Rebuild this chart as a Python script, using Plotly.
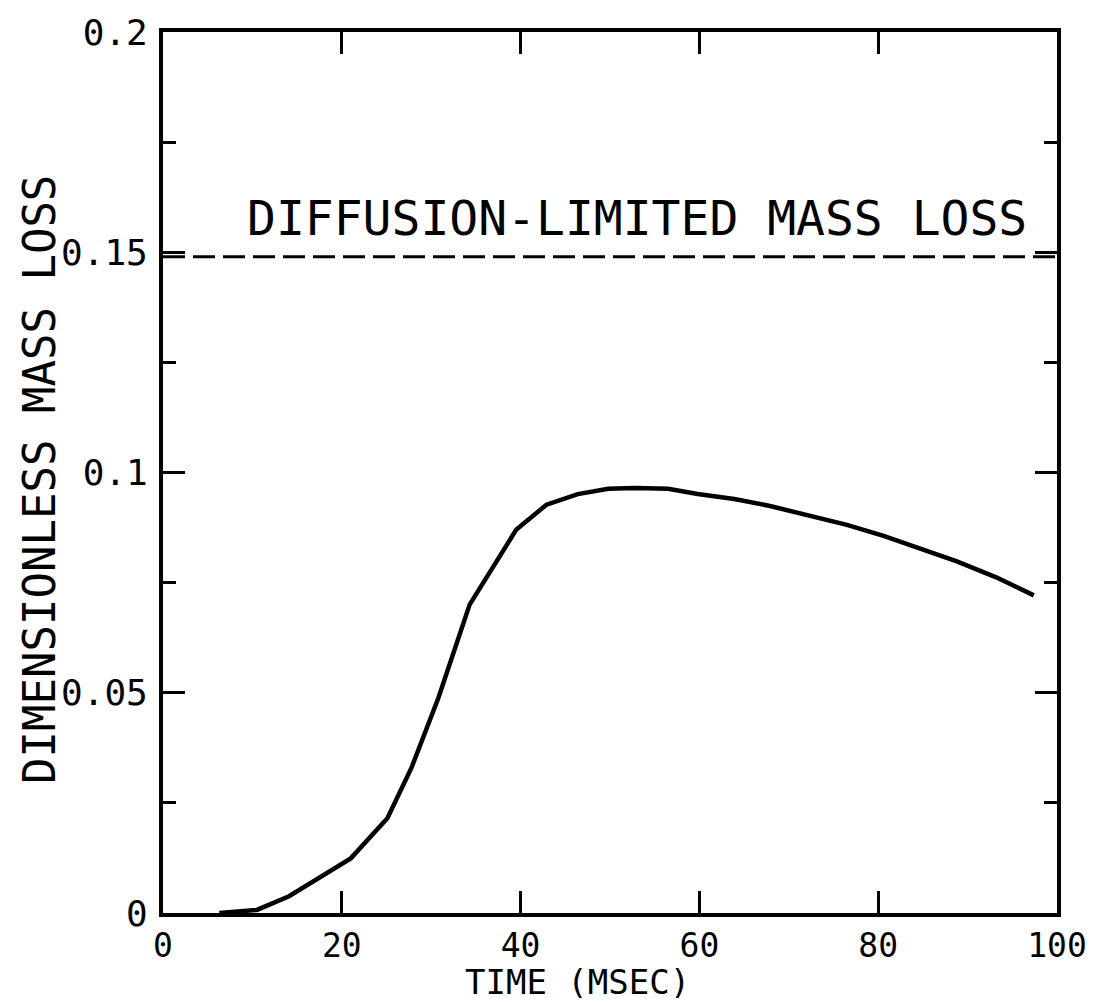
import plotly.graph_objects as go

# Data
time_ms = [6.3, 10.5, 14.1, 21.0, 25.1, 27.8, 30.8, 34.3, 39.5, 42.9,
           46.4, 49.8, 52.8, 56.5, 59.8, 63.9, 67.9, 72.4, 76.5, 80.6, 84.6,
           88.8, 93.2, 97.4]
mass_loss = [0.0, 0.0007, 0.0038, 0.0124, 0.0215, 0.033, 0.0488, 0.070,
             0.087, 0.0927, 0.0951, 0.0963, 0.0965, 0.0963, 0.0951,
             0.094, 0.0924, 0.0902, 0.0881, 0.0856, 0.0829, 0.0798, 0.0762,
             0.0721]
limit_x = [0, 100]
limit_value = 0.149
limit_label = "DIFFUSION-LIMITED MASS LOSS"
x_title = "TIME (MSEC)"
y_title = "DIMENSIONLESS MASS LOSS"

x_tickvals = [0, 20, 40, 60, 80, 100]
x_ticktext = ["0", "20", "40", "60", "80", "100"]
y_tickvals = [0, 0.05, 0.1, 0.15, 0.2]
y_ticktext = ["0", "0.05", "0.1", "0.15", "0.2"]
y_minor_tickvals = [0.025, 0.075, 0.125, 0.175]

FONT = "DejaVu Sans Mono"

fig = go.Figure()
fig.add_trace(go.Scatter(
    x=limit_x, y=[limit_value, limit_value], mode="lines",
    line=dict(color="black", width=3, dash="22px,8px"),
    showlegend=False, hoverinfo="skip"))
fig.add_trace(go.Scatter(
    x=time_ms, y=mass_loss, mode="lines",
    line=dict(color="black", width=4.5, shape="linear"),
    showlegend=False))

fig.add_annotation(x=53.0, y=0.1577, text=limit_label, showarrow=False,
                   font=dict(family=FONT, size=48, color="black"),
                   xanchor="center", yanchor="middle")

fig.add_annotation(xref="paper", yref="paper", x=0.464, y=-0.078,
                   text=x_title, showarrow=False,
                   font=dict(family=FONT, size=34, color="black"),
                   xanchor="center", yanchor="middle")

fig.add_annotation(xref="paper", yref="paper", x=-0.1376, y=0.4927,
                   text=y_title, showarrow=False, textangle=-90,
                   font=dict(family=FONT, size=44, color="black"),
                   xanchor="center", yanchor="middle")

fig.update_xaxes(
    range=[0, 100], tickvals=x_tickvals, ticktext=x_ticktext,
    ticks="inside", ticklen=22, tickwidth=3, tickcolor="black",
    showline=True, linecolor="black", linewidth=4, mirror="ticks",
    showgrid=False, zeroline=False,
    tickfont=dict(family=FONT, size=33, color="black"),
    ticklabelstandoff=0,
)
fig.update_yaxes(
    range=[0, 0.2], tickvals=y_tickvals, ticktext=y_ticktext,
    ticks="inside", ticklen=22, tickwidth=3, tickcolor="black",
    minor=dict(tickvals=y_minor_tickvals, ticks="inside",
               ticklen=13, tickwidth=3, tickcolor="black"),
    showline=True, linecolor="black", linewidth=4, mirror="ticks",
    showgrid=False, zeroline=False,
    tickfont=dict(family=FONT, size=36, color="black"),
    ticklabelstandoff=4,
)

fig.update_layout(
    width=1099, height=1002,
    margin=dict(l=163, r=42, t=28, b=89),
    paper_bgcolor="white", plot_bgcolor="white",
)

fig.write_html("out.html")
